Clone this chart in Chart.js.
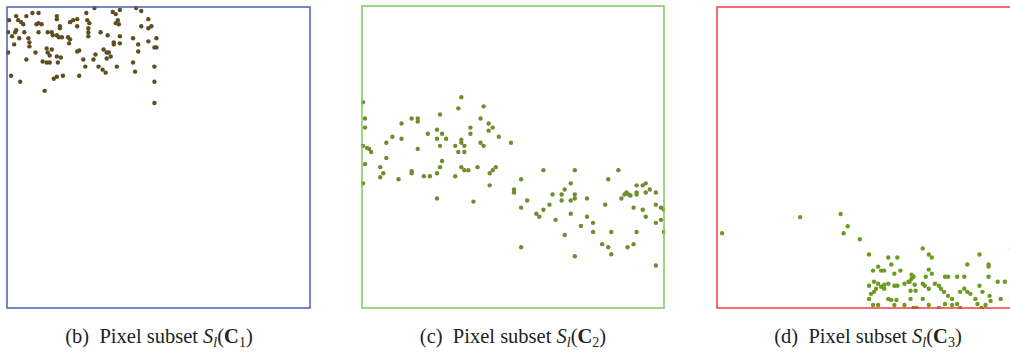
<!DOCTYPE html>
<html lang="en">
<head>
    <meta charset="UTF-8">
    <title>Pixel subsets</title>
    <script src="https://cdn.jsdelivr.net/npm/chart.js"></script>
    <style>
        body { margin: 0; width: 1010px; height: 352px; overflow: hidden; background: #fff; position: relative; }
        .panel { position: absolute; }
        .cap { position: absolute; top: 324px; width: 300px; text-align: center; line-height: 24px;
               font-family: "Liberation Serif", "DejaVu Serif", serif; font-size: 20.5px; color: #222; }
        .cap sub { font-size: 14px; vertical-align: -4px; line-height: 0; }
    </style>
</head>
<body>
    <div class="panel" style="left:6px;top:6px"><canvas id="c1" width="305" height="303"></canvas></div>
    <div class="panel" style="left:361px;top:5px"><canvas id="c2" width="304" height="304"></canvas></div>
    <div class="panel" style="left:716px;top:6px"><canvas id="c3" width="304" height="303"></canvas></div>

    <div class="cap" style="left:9px">(b)&nbsp; Pixel subset <i>S</i><sub><i>l</i></sub>(<b>C</b><sub>1</sub>)</div>
    <div class="cap" style="left:363px">(c)&nbsp; Pixel subset <i>S</i><sub><i>l</i></sub>(<b>C</b><sub>2</sub>)</div>
    <div class="cap" style="left:718px">(d)&nbsp; Pixel subset <i>S</i><sub><i>l</i></sub>(<b>C</b><sub>3</sub>)</div>

    <script>
        // pixel positions inside each 300x300 panel, y measured from the top
        const subsetC1 = [[3,14],[10,10],[12,14],[15,16],[17,18],[20,10],[26,7],[32,7],[50,10],[50,13],[32,17],[30,18],[35,18],
            [53,20],[53,22],[63,16],[66,14],[70,13],[70,20],[79,7],[80,14],[82,17],[87,2],[81,22],[81,26],[81,30],[105,6],[108,8],
            [112,4],[110,14],[108,17],[111,18],[128,2],[133,5],[140,13],[143,20],[140,22],[133,20],[2,26],[6,30],[9,26],[10,24],
            [18,26],[32,26],[22,32],[23,36],[13,32],[8,38],[41,26],[45,26],[46,29],[50,29],[52,31],[55,31],[61,31],[63,33],[62,37],
            [72,44],[93,26],[100,29],[106,36],[106,38],[112,30],[112,37],[125,32],[130,38],[130,45],[140,35],[148,32],[146,41],
            [148,41],[2,46],[23,40],[29,46],[40,42],[41,46],[43,49],[45,43],[36,55],[40,56],[43,56],[50,50],[54,51],[51,56],[20,53],
            [70,45],[76,53],[78,60],[86,53],[88,48],[91,60],[95,63],[98,66],[96,43],[99,46],[101,46],[103,50],[99,52],[109,60],
            [125,56],[127,65],[146,60],[146,75],[146,96],[5,69],[14,75],[38,84],[47,72],[50,70],[56,69],[72,69]];

        const subsetC2 = [[2,96],[4,112],[4,121],[2,139],[6,141],[8,142],[10,145],[4,157],[2,176],[19,160],[22,166],[19,170],
            [25,151],[25,136],[31,130],[37,172],[40,117],[40,132],[50,112],[56,112],[56,115],[50,164],[50,166],[56,142],[62,169],
            [68,169],[66,127],[75,123],[78,108],[75,132],[78,139],[80,127],[84,132],[80,154],[78,160],[75,166],[75,191],[93,139],
            [96,102],[99,91],[99,133],[99,136],[102,139],[96,145],[102,145],[93,169],[99,160],[102,163],[106,163],[108,121],
            [108,127],[111,194],[115,160],[118,112],[121,100],[118,136],[121,139],[126,117],[130,121],[126,124],[127,166],
            [130,163],[133,160],[127,178],[136,130],[148,136],[151,182],[151,185],[158,172],[158,200],[158,239],[164,193],
            [173,206],[176,209],[180,202],[180,163],[186,197],[189,187],[192,212],[198,187],[198,193],[201,182],[201,227],
            [207,176],[207,193],[207,206],[211,163],[211,187],[211,191],[211,248],[217,218],[223,191],[223,209],[229,215],
            [229,224],[238,236],[244,239],[247,246],[241,197],[244,172],[247,224],[254,163],[257,191],[260,187],[262,185],
            [264,187],[266,188],[263,239],[269,236],[269,200],[272,178],[272,185],[272,187],[272,224],[278,178],[281,176],
            [285,182],[281,185],[278,202],[281,209],[291,185],[291,197],[296,200],[299,202],[291,215],[296,212],[299,224],[291,257]];

        const subsetC3 = [[6,225],[83,209],[123,206],[130,218],[126,225],[142,231],[151,246],[170,249],[179,249],[173,256],
            [155,262],[160,258],[163,262],[166,262],[176,265],[182,262],[193,266],[195,268],[191,273],[204,240],[210,246],
            [213,249],[210,261],[213,265],[207,268],[226,268],[229,268],[238,268],[245,268],[248,256],[260,246],[269,256],
            [269,258],[269,268],[278,273],[285,273],[292,240],[151,277],[156,273],[160,275],[158,280],[153,285],[156,283],
            [151,290],[163,278],[166,276],[170,275],[166,280],[176,277],[179,277],[186,275],[190,273],[193,270],[196,276],
            [197,282],[192,282],[204,275],[206,277],[210,280],[216,275],[220,277],[222,280],[225,283],[229,287],[233,290],
            [238,295],[241,299],[241,283],[245,280],[248,283],[251,285],[260,277],[263,283],[270,287],[170,290],[173,291],
            [178,291],[155,296],[160,296],[176,296],[186,296],[192,290],[195,299],[198,299],[204,290],[210,296],[220,299],
            [226,295],[233,296],[256,290],[258,295],[262,299],[266,296],[271,292],[281,290],[292,290]];

        // box around the plot area
        const frame = {
            id: 'frame',
            afterDraw(chart, args, opts) {
                const a = chart.chartArea, ctx = chart.ctx;
                ctx.save();
                ctx.strokeStyle = opts.color;
                ctx.lineWidth = 1.5;
                ctx.strokeRect(a.left + 1, a.top + 1, a.right - a.left - 2, a.bottom - a.top - 2);
                ctx.restore();
            }
        };

        function makePanel(id, pts, dotColor, boxColor) {
            new Chart(document.getElementById(id), {
                type: 'scatter',
                data: {
                    datasets: [{
                        data: pts.map(p => ({ x: p[0], y: p[1] })),
                        backgroundColor: dotColor,
                        borderWidth: 0,
                        pointRadius: 2.2
                    }]
                },
                options: {
                    responsive: false,
                    animation: false,
                    layout: { padding: 0, autoPadding: false },
                    plugins: { legend: { display: false }, tooltip: { enabled: false }, frame: { color: boxColor } },
                    scales: {
                        x: { type: 'linear', min: 0, max: 300, display: false },
                        y: { min: 0, max: 300, reverse: true, display: false }
                    }
                },
                plugins: [frame]
            });
        }

        makePanel('c1', subsetC1, '#5e4d1e', '#4a5fae');
        makePanel('c2', subsetC2, '#6f8d2e', '#7cc95c');
        makePanel('c3', subsetC3, '#6c9b22', '#ee3e3e');
    </script>
</body>
</html>
